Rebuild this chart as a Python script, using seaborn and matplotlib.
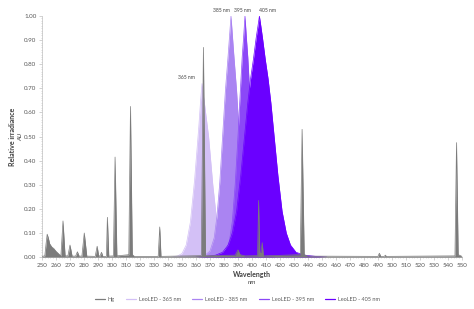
import numpy as np
import matplotlib
matplotlib.use("Agg")
import matplotlib.pyplot as plt
import pandas as pd
import seaborn as sns
from matplotlib.ticker import MultipleLocator

# Hg lamp lines
hg_wl = [250, 252, 253, 253.7, 254.5, 255.5, 257, 258.5, 260, 262, 263.5, 265, 266.5,
         268.5, 270, 271.5, 274, 275.3, 276.5, 278.5, 280.2, 282, 288, 289.4, 290.5,
         291.5, 292.5, 293.5, 296, 296.7, 297.7, 301, 302.2, 303.5, 312, 313.2, 314.5,
         316, 333, 334.1, 335, 363.8, 365.3, 366.8, 388, 390, 391.5, 395, 404, 404.7,
         405.6, 406.5, 407.3, 408.2, 434.5, 435.8, 437.3, 440, 490, 491, 492, 494.5,
         495.3, 496, 545, 546.1, 547.3, 550]
hg_val = [0.003, 0.005, 0.06, 0.095, 0.08, 0.055, 0.042, 0.035, 0.024, 0.013, 0.005, 0.15, 0.005,
          0.005, 0.05, 0.004, 0.004, 0.022, 0.004, 0.004, 0.10, 0.004, 0.003, 0.045, 0.005,
          0.005, 0.02, 0.003, 0.003, 0.165, 0.004, 0.005, 0.415, 0.005, 0.01, 0.625, 0.01,
          0.003, 0.003, 0.125, 0.003, 0.006, 0.87, 0.006, 0.008, 0.03, 0.01, 0.005, 0.006, 0.235,
          0.02, 0.02, 0.06, 0.005, 0.01, 0.53, 0.01, 0.004, 0.003, 0.016, 0.003, 0.003,
          0.008, 0.003, 0.005, 0.475, 0.01, 0.003]

led365_wl = [343, 347, 350, 353, 356, 359, 362, 363.3, 364.3, 365.3, 366, 369, 372, 375, 378, 381, 385]
led365_val = [0, 0.005, 0.015, 0.05, 0.145, 0.32, 0.54, 0.65, 0.72, 0.67, 0.64, 0.5, 0.3, 0.14, 0.05, 0.015, 0]

led385_wl = [361, 366, 370, 373, 375, 377, 379, 381, 383, 384, 385, 386, 387, 389, 391, 393, 395, 397, 400, 404, 409]
led385_val = [0, 0.005, 0.025, 0.08, 0.17, 0.31, 0.5, 0.69, 0.84, 0.92, 1.0, 0.92, 0.84, 0.69, 0.5, 0.31, 0.17, 0.08, 0.025, 0.005, 0]

led395_wl = [373, 377, 381, 384, 386, 388, 390, 391.5, 393, 394, 395, 396, 397, 398.5, 400, 402, 404, 406, 409, 413, 417]
led395_val = [0, 0.004, 0.02, 0.07, 0.15, 0.3, 0.5, 0.67, 0.83, 0.91, 1.0, 0.91, 0.83, 0.67, 0.5, 0.3, 0.15, 0.07, 0.02, 0.004, 0]

led405_wl = [360, 368, 374, 379, 383, 386, 389, 392, 395, 397, 399, 401, 403, 404.3, 405.3, 406.3,
             407.5, 409.5, 411.5, 413.5, 415.5, 418.5, 421.5, 424.5, 427.5, 431.5, 437.5, 445.5, 453.5]
led405_val = [0, 0.003, 0.008, 0.02, 0.05, 0.1, 0.19, 0.34, 0.52, 0.64, 0.74, 0.82, 0.91, 0.96, 1.0, 0.96,
              0.91, 0.82, 0.74, 0.64, 0.52, 0.34, 0.19, 0.1, 0.05, 0.02, 0.008, 0.003, 0]

names = ["LeoLED - 365 nm", "LeoLED - 385 nm", "LeoLED - 395 nm", "LeoLED - 405 nm", "Hg"]
colors = ["#d3c0f6", "#aa84f2", "#8b48f7", "#6a00ff", "#7b7b7b"]
peak_labels = ["365 nm", "385 nm", "395 nm", "405 nm"]
label_x = [353.5, 378.3, 393.3, 411]
label_y = [0.747, 1.022, 1.022, 1.022]

series = [(led365_wl, led365_val), (led385_wl, led385_val), (led395_wl, led395_val),
          (led405_wl, led405_val), (hg_wl, hg_val)]
df = pd.concat([pd.DataFrame({"wl": w, "val": v, "series": n})
                for (w, v), n in zip(series, names)], ignore_index=True)

sns.set_theme(style="white")
plt.rcParams["font.family"] = ["Lato", "DejaVu Sans"]

fig = plt.figure(figsize=(4.74, 3.09), dpi=100)
ax = fig.add_axes([0.0886, 0.168, 0.886, 0.780])

pal = dict(zip(names, colors))
sns.lineplot(data=df, x="wl", y="val", hue="series", palette=pal, linewidth=0.5,
             ax=ax, legend=False, sort=False)
for i, ((w, v), n) in enumerate(zip(series, names)):
    ax.fill_between(w, v, color=pal[n], lw=0, zorder=2 + i)
for i, line in enumerate(ax.lines):
    line.set_zorder(2.5 + i)

for t, x, y in zip(peak_labels, label_x, label_y):
    ax.text(x, y, t, fontsize=3.6, color="#404040", ha="center", va="center", clip_on=False)

ax.set_xlim(250, 550)
ax.set_ylim(0, 1.0)
ax.xaxis.set_major_locator(MultipleLocator(10))
ax.xaxis.set_minor_locator(MultipleLocator(2))
ax.yaxis.set_major_locator(MultipleLocator(0.1))
ax.yaxis.set_minor_locator(MultipleLocator(0.01))
ax.yaxis.set_major_formatter(matplotlib.ticker.FormatStrFormatter("%.2f"))
ax.tick_params(axis="both", which="major", labelsize=4.5, labelcolor="#595959",
               length=2, width=0.5, color="#bfbfbf", pad=2, left=True, bottom=True)
ax.tick_params(axis="both", which="minor", length=1, width=0.4, color="#bfbfbf",
               left=True, bottom=True)
for s in ["top", "right"]:
    ax.spines[s].set_visible(False)
for s in ["left", "bottom"]:
    ax.spines[s].set_color("#bfbfbf")
    ax.spines[s].set_linewidth(0.5)

ax.set_xlabel("")
ax.set_ylabel("")
fig.text(0.027, 0.557, "Relative irradiance", rotation=90, fontsize=5, fontweight="bold",
         color="#404040", ha="center", va="center")
fig.text(0.044, 0.557, "AU", rotation=90, fontsize=4.5, style="italic",
         color="#404040", ha="center", va="center")
fig.text(0.531, 0.112, "Wavelength", fontsize=5, fontweight="bold", color="#404040",
         ha="center", va="center")
fig.text(0.531, 0.085, "nm", fontsize=4.5, style="italic", color="#404040",
         ha="center", va="center")

handles = [plt.Line2D([], [], color=pal[n], lw=0.9) for n in ["Hg"] + names[:4]]
fig.legend(handles, ["Hg"] + names[:4], loc="center", bbox_to_anchor=(0.501, 0.032),
           ncol=5, frameon=False, fontsize=4, handlelength=1.8, columnspacing=2.0,
           handletextpad=0.55, labelcolor="#595959")

fig.savefig("out.png", dpi=100)
